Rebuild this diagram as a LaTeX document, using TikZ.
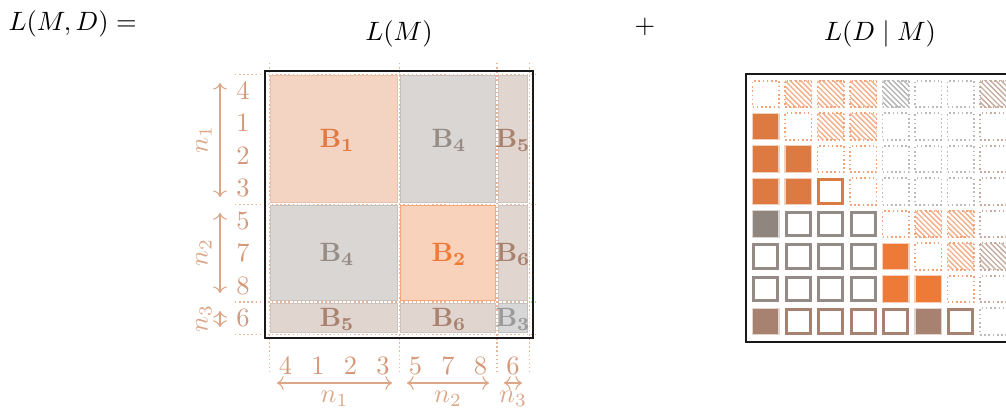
\documentclass[tikz,border=0pt]{standalone}
\usetikzlibrary{arrows.meta}
\definecolor{oA}{HTML}{DC7A42}
\definecolor{oP}{HTML}{EE7A38}
\definecolor{gS}{HTML}{8F8680}
\definecolor{bS}{HTML}{A88270}
\definecolor{gO}{HTML}{958B86}
\definecolor{dOc}{HTML}{F2A57C}
\definecolor{dGc}{HTML}{BBBBBB}
\definecolor{dBc}{HTML}{C4ADA0}
\definecolor{hOc}{HTML}{F3AE88}
\definecolor{hGc}{HTML}{B4B4B4}
\definecolor{hBc}{HTML}{C6AC9E}
\definecolor{fB1}{HTML}{F3D3C2}
\definecolor{lB1}{HTML}{EBC0A8}
\definecolor{fB4}{HTML}{DAD6D3}
\definecolor{fB5}{HTML}{E1D5D0}
\definecolor{fB2}{HTML}{F9D2BB}
\definecolor{lB2}{HTML}{F7A678}
\definecolor{fB3}{HTML}{D7D7D7}
\definecolor{tB1}{HTML}{E07A42}
\definecolor{tB2}{HTML}{EE7A38}
\definecolor{tB4}{HTML}{968C86}
\definecolor{tB5}{HTML}{A8826F}
\definecolor{tB3}{HTML}{9A9A9A}
\definecolor{digc}{HTML}{D59878}
\definecolor{arrc}{HTML}{DCA688}
\definecolor{gridc}{HTML}{E8B49A}
\begin{document}
\begin{tikzpicture}[x=0.3774pt,y=-0.3774pt,
  cell/.style={rectangle,minimum size=10pt,inner sep=0pt,outer sep=0pt},
  dO/.style={draw=dOc,densely dotted,line width=0.6pt},
  dP/.style={draw=dOc,densely dotted,line width=0.6pt},
  dG/.style={draw=dGc,densely dotted,line width=0.6pt},
  dB/.style={draw=dBc,densely dotted,line width=0.6pt},
  hatch/.style={path picture={
    \foreach \t in {-10,-8,...,10}
      \draw[#1,line width=0.5pt,solid,shift={(path picture bounding box.center)}]
        (\t pt-6pt,6pt) -- (\t pt+6pt,-6pt);}},
  hO/.style={dO,hatch=hOc},
  hP/.style={dP,hatch=hOc},
  hG/.style={dG,hatch=hGc},
  hB/.style={dB,hatch=hBc},
  sA/.style={fill=oA,draw=oA!35,line width=0.5pt},
  sP/.style={fill=oP,draw=oP!35,line width=0.5pt},
  sG/.style={fill=gS,draw=gS!35,line width=0.5pt},
  sB/.style={fill=bS,draw=bS!35,line width=0.5pt},
  oA/.style={minimum size=9pt,fill=white,draw=oA,line width=1.1pt},
  oG/.style={minimum size=9pt,fill=white,draw=gO,line width=1.1pt},
  oB/.style={minimum size=9pt,fill=white,draw=bS,line width=1.1pt},
  gridln/.style={draw=gridc,densely dotted,line width=0.55pt},
  dig/.style={inner sep=0pt,text=digc},
  nlab/.style={inner sep=0pt,text=arrc},
  dimarr/.style={draw=arrc,line width=0.4pt,{To[length=2.5pt]}-{To[length=2.5pt]}},
  blab/.style={inner sep=0pt},
  frame/.style={draw=black!90,line width=0.8pt}
]
\useasboundingbox (0,0) rectangle (1006,408);
\clip (0,0) rectangle (1006,408);
% titles
\node[inner sep=0pt,anchor=base west] (tLMD) at (8,30.5) {$L(M,D) =$};
\node[inner sep=0pt,anchor=base] (tLM) at (399,40.5) {$L(M)$};
\node[inner sep=0pt,anchor=base] (tplus) at (645,33.5) {$+$};
\node[inner sep=0pt,anchor=base] (tLDM) at (880,40.5) {$L(D\mid M)$};
% left: dotted grid lines
\foreach \yy in {74.3,204.3,301.8,334.3} \draw[gridln] (235,\yy) -- (538,\yy);
\foreach \xx in {269.3,399.3,496.8,529.3} \draw[gridln] (\xx,63) -- (\xx,375);
% blocks
\filldraw[fill=fB1,draw=lB1,line width=0.4pt] (270.8,75.8) rectangle (397.8,202.8);
\filldraw[fill=fB4,draw=fB4!90!black,line width=0.3pt] (400.8,75.8) rectangle (495.3,202.8);
\filldraw[fill=fB5,draw=fB5!92!black,line width=0.3pt] (498.3,75.8) rectangle (527.8,202.8);
\filldraw[fill=fB4,draw=fB4!90!black,line width=0.3pt] (270.8,205.8) rectangle (397.8,300.3);
\filldraw[fill=fB2,draw=lB2,line width=0.4pt] (400.8,205.8) rectangle (495.3,300.3);
\filldraw[fill=fB5,draw=fB5!92!black,line width=0.3pt] (498.3,205.8) rectangle (527.8,300.3);
\filldraw[fill=fB5,draw=fB5!92!black,line width=0.3pt] (270.8,303.3) rectangle (397.8,332.8);
\filldraw[fill=fB5,draw=fB5!92!black,line width=0.3pt] (400.8,303.3) rectangle (495.3,332.8);
\filldraw[fill=fB3,draw=fB3!90!black,line width=0.3pt] (498.3,303.3) rectangle (527.8,332.8);
% block labels
\node[blab,text=tB1] (lb11) at (337,140) {$\mathbf{B_1}$};
\node[blab,text=tB4] (lb12) at (449,140) {$\mathbf{B_4}$};
\node[blab,text=tB5] (lb13) at (513,140) {$\mathbf{B_5}$};
\node[blab,text=tB4] (lb21) at (337,254) {$\mathbf{B_4}$};
\node[blab,text=tB2] (lb22) at (449,254) {$\mathbf{B_2}$};
\node[blab,text=tB5] (lb23) at (513,254) {$\mathbf{B_6}$};
\node[blab,text=tB5] (lb31) at (337,319) {$\mathbf{B_5}$};
\node[blab,text=tB5] (lb32) at (449,319) {$\mathbf{B_6}$};
\node[blab,text=tB3] (lb33) at (513,319) {$\mathbf{B_3}$};
% frame
\draw[frame] (265,71) rectangle (533,338);
% row and column labels
\foreach \v [count=\k] in {4,1,2,3,5,7,8,6} {
  \node[dig] (r\k) at (243,{90.55+32.5*(\k-1)}) {$\v$};
  \node[dig] (k\k) at ({285.55+32.5*(\k-1)},365.5) {$\v$};
}
% dimension arrows left
\coordinate (a1t) at (220,83); \coordinate (a1b) at (220,197);
\coordinate (a2t) at (220,213); \coordinate (a2b) at (220,293);
\coordinate (a3t) at (220,311); \coordinate (a3b) at (220,327);
\draw[dimarr] (a1t) -- (a1b);
\draw[dimarr] (a2t) -- (a2b);
\draw[dimarr] (a3t) -- (a3b);
\node[nlab,rotate=90] (nl1) at (204,140) {$n_1$};
\node[nlab,rotate=90] (nl2) at (204,253) {$n_2$};
\node[nlab,rotate=90] (nl3) at (204,319) {$n_3$};
% dimension arrows bottom
\coordinate (b1l) at (277,383); \coordinate (b1r) at (392,383);
\coordinate (b2l) at (407,383); \coordinate (b2r) at (489,383);
\coordinate (b3l) at (504,383); \coordinate (b3r) at (522,383);
\draw[dimarr] (b1l) -- (b1r);
\draw[dimarr] (b2l) -- (b2r);
\draw[dimarr] (b3l) -- (b3r);
\node[nlab] (nb1) at (334.5,398.5) {$n_1$};
\node[nlab] (nb2) at (448,398.5) {$n_2$};
\node[nlab] (nb3) at (513,398.5) {$n_3$};
% right: adjacency cells
\foreach \i/\row in {
  1/{dO,hO,hO,hO,hG,dG,dG,hB},
  2/{sA,dO,hO,hO,dG,dG,dG,dB},
  3/{sA,sA,dO,dO,dG,dG,dG,dB},
  4/{sA,sA,oA,dO,dG,dG,dG,dB},
  5/{sG,oG,oG,oG,dP,hP,hP,dB},
  6/{oG,oG,oG,oG,sP,dP,hP,hB},
  7/{oG,oG,oG,oG,sP,sP,dP,dB},
  8/{sB,oB,oB,oB,oB,sB,oB,dG}} {
  \foreach \s [count=\j] in \row {
    \node[cell,\s] (c\i-\j) at ({765.75+32.5*(\j-1)},{94+32.5*(\i-1)}) {};
  }
}
\draw[frame] (746,74) rectangle (1013,342);
\end{tikzpicture}
\end{document}
